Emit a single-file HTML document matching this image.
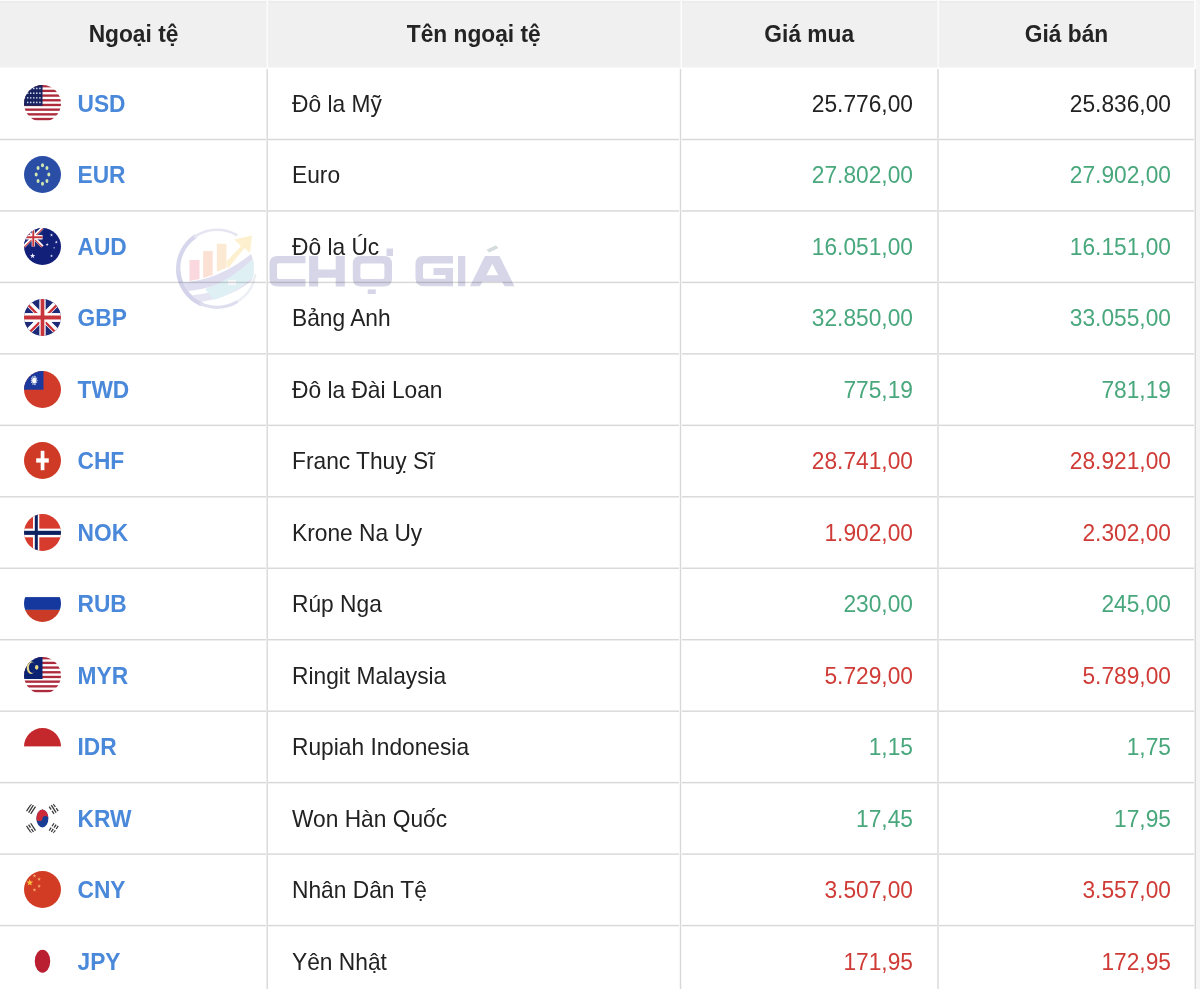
<!DOCTYPE html><html><head><meta charset="utf-8"><title>Tỷ giá ngoại tệ</title><style>
*{margin:0;padding:0;box-sizing:border-box}
html,body{width:1200px;height:989px;overflow:hidden;background:#fff}
body{position:relative;font-family:"Liberation Sans",sans-serif;font-size:22.75px;color:#222}
.abs{position:absolute}
#wrap{position:absolute;left:0;top:0;width:1200px;height:989px;overflow:hidden;background:#fff;filter:blur(0.6px)}
.hd{position:absolute;top:0;height:67.5px;line-height:67.5px;font-weight:bold;text-align:center;color:#242424}
.hd span{display:inline-block;transform-origin:0 41.27px;transform:translateY(0.9px) scaleY(1.02)}
.t{transform-origin:0 43.25px;transform:translateY(0.9px) scaleY(1.02)}
.hl{position:absolute;left:0;width:1197px;height:1.5px;background:#dcdcdc}
.vl{position:absolute;width:1.6px;background:#dddddd}
.row{position:absolute;left:0;width:1195px;height:71.46px;line-height:71.46px}
.code{position:absolute;left:77.5px;top:0;font-weight:bold;color:#4a88da}
.name{position:absolute;left:292px;top:0}
.buy{position:absolute;right:282px;top:0}
.sell{position:absolute;right:24px;top:0}
.flag{position:absolute;left:23.5px;width:37px;height:37px;border-radius:50%;overflow:hidden}
.flag svg{display:block;width:37px;height:37px}
</style></head><body><div id="wrap">
<div class="abs" style="left:0;top:0;width:1194px;height:67px;background:#f0f0f0"></div>
<div class="abs" style="left:0;top:67px;width:1194px;height:1px;background:#f7f7f7"></div>
<div class="abs" style="left:0;top:0;width:1194px;height:1px;background:#fafafa"></div>
<div class="abs" style="left:0;top:1px;width:1194px;height:2px;background:#ececec"></div>
<div class="abs" style="left:1194px;top:0;width:2px;height:68px;background:#fbfbfb"></div>
<div class="abs" style="left:266px;top:0;width:1px;height:68px;background:#f6f6f6"></div>
<div class="abs" style="left:267px;top:0;width:1px;height:68px;background:#fcfcfc"></div>
<div class="abs" style="left:680px;top:0;width:1px;height:68px;background:#f6f6f6"></div>
<div class="abs" style="left:681px;top:0;width:1px;height:68px;background:#fcfcfc"></div>
<div class="abs" style="left:937px;top:0;width:1px;height:68px;background:#f6f6f6"></div>
<div class="abs" style="left:938px;top:0;width:1px;height:68px;background:#fcfcfc"></div>
<div class="abs" style="left:0px;top:138px;width:1196px;height:1px;background:#f6f6f6"></div>
<div class="abs" style="left:0px;top:139px;width:1196px;height:1px;background:#d8d8d8"></div>
<div class="abs" style="left:0px;top:140px;width:1196px;height:1px;background:#f6f6f6"></div>
<div class="abs" style="left:0px;top:210px;width:1196px;height:1px;background:#e1e1e1"></div>
<div class="abs" style="left:0px;top:211px;width:1196px;height:1px;background:#e4e4e4"></div>
<div class="abs" style="left:0px;top:281px;width:1196px;height:1px;background:#f3f3f3"></div>
<div class="abs" style="left:0px;top:282px;width:1196px;height:1px;background:#d8d8d8"></div>
<div class="abs" style="left:0px;top:283px;width:1196px;height:1px;background:#f9f9f9"></div>
<div class="abs" style="left:0px;top:353px;width:1196px;height:1px;background:#dedede"></div>
<div class="abs" style="left:0px;top:354px;width:1196px;height:1px;background:#e7e7e7"></div>
<div class="abs" style="left:0px;top:424px;width:1196px;height:1px;background:#f0f0f0"></div>
<div class="abs" style="left:0px;top:425px;width:1196px;height:1px;background:#d8d8d8"></div>
<div class="abs" style="left:0px;top:426px;width:1196px;height:1px;background:#fcfcfc"></div>
<div class="abs" style="left:0px;top:496px;width:1196px;height:1px;background:#dbdbdb"></div>
<div class="abs" style="left:0px;top:497px;width:1196px;height:1px;background:#ebebeb"></div>
<div class="abs" style="left:0px;top:567px;width:1196px;height:1px;background:#ededed"></div>
<div class="abs" style="left:0px;top:568px;width:1196px;height:1px;background:#d9d9d9"></div>
<div class="abs" style="left:0px;top:639px;width:1196px;height:1px;background:#d8d8d8"></div>
<div class="abs" style="left:0px;top:640px;width:1196px;height:1px;background:#eeeeee"></div>
<div class="abs" style="left:0px;top:710px;width:1196px;height:1px;background:#eaeaea"></div>
<div class="abs" style="left:0px;top:711px;width:1196px;height:1px;background:#dcdcdc"></div>
<div class="abs" style="left:0px;top:781px;width:1196px;height:1px;background:#fcfcfc"></div>
<div class="abs" style="left:0px;top:782px;width:1196px;height:1px;background:#d8d8d8"></div>
<div class="abs" style="left:0px;top:783px;width:1196px;height:1px;background:#f1f1f1"></div>
<div class="abs" style="left:0px;top:853px;width:1196px;height:1px;background:#e7e7e7"></div>
<div class="abs" style="left:0px;top:854px;width:1196px;height:1px;background:#dfdfdf"></div>
<div class="abs" style="left:0px;top:924px;width:1196px;height:1px;background:#f9f9f9"></div>
<div class="abs" style="left:0px;top:925px;width:1196px;height:1px;background:#d8d8d8"></div>
<div class="abs" style="left:0px;top:926px;width:1196px;height:1px;background:#f4f4f4"></div>
<div class="abs" style="left:266px;top:69px;width:1px;height:920px;background:#ececec"></div>
<div class="abs" style="left:267px;top:69px;width:1px;height:920px;background:#dcdcdc"></div>
<div class="abs" style="left:679px;top:69px;width:1px;height:920px;background:#f7f7f7"></div>
<div class="abs" style="left:680px;top:69px;width:1px;height:920px;background:#d8d8d8"></div>
<div class="abs" style="left:681px;top:69px;width:1px;height:920px;background:#f7f7f7"></div>
<div class="abs" style="left:937px;top:69px;width:1px;height:920px;background:#e4e4e4"></div>
<div class="abs" style="left:938px;top:69px;width:1px;height:920px;background:#e4e4e4"></div>
<div class="abs" style="left:1194px;top:69px;width:1px;height:920px;background:#efefef"></div>
<div class="abs" style="left:1195px;top:69px;width:1px;height:920px;background:#d8d8d8"></div>
<div class="abs" style="left:1196px;top:0;width:4px;height:989px;background:#f5f5f5"></div>
<div class="hd" style="left:0px;width:267px"><span>Ngoại tệ</span></div>
<div class="hd" style="left:267px;width:413.5px"><span>Tên ngoại tệ</span></div>
<div class="hd" style="left:680.5px;width:257.5px"><span>Giá mua</span></div>
<div class="hd" style="left:938px;width:257px"><span>Giá bán</span></div>
<svg class="abs" style="left:0;top:0;width:1200px;height:989px;pointer-events:none;mix-blend-mode:multiply" viewBox="0 0 1200 989"><defs><linearGradient id="sw" x1="0" y1="0" x2="1" y2="0"><stop offset="0" stop-color="#b8b8dc"/><stop offset="0.6" stop-color="#b8dcea"/><stop offset="1" stop-color="#c8e8ee"/></linearGradient><linearGradient id="rg" x1="0" y1="0" x2="1" y2="1"><stop offset="0" stop-color="#c8c8e6"/><stop offset="1" stop-color="#e4e4f0"/></linearGradient></defs><path d="M200.60,303.66 A38.8,38.8 0 0 1 178.35,271.88" fill="none" stroke="#d2d2ea" stroke-width="4.6" stroke-linecap="round"/><path d="M178.35,271.88 A38.8,38.8 0 0 1 194.75,236.72" fill="none" stroke="#d6d6ec" stroke-width="4.2" stroke-linecap="round"/><path d="M194.75,236.72 A38.8,38.8 0 0 1 236.40,234.90" fill="none" stroke="#e6e6f2" stroke-width="2.6" stroke-linecap="round"/><path d="M255.21,275.24 A38.8,38.8 0 0 1 236.40,302.10" fill="none" stroke="#eceff4" stroke-width="2.4" stroke-linecap="round"/><path d="M236.40,302.10 A38.8,38.8 0 0 1 200.60,303.66" fill="none" stroke="#dedeee" stroke-width="3.2" stroke-linecap="round"/><path d="M189.5,260 h10 v19 l-10,2z" fill="#fad8dd"/><path d="M203.2,251 h9.5 v24 l-9.5,3z" fill="#fbe0d4"/><path d="M216.8,243.8 h9.6 v24 l-9.6,4z" fill="#fce9d4"/><path d="M226,262 L241,246 L234,239.5 L252,235.5 L250,253 L244.5,248 L228,268.5z" fill="#fcf0cf"/><defs><clipPath id="lc"><circle cx="217" cy="268.5" r="37"/></clipPath></defs><g clip-path="url(#lc)"><path d="M170,282 Q214,286 256,250 L262,258 Q226,292 170,292z" fill="#dedef0"/><path d="M170,295 Q222,300 262,264 L262,272 Q228,306 170,303z" fill="#e4e4f2"/><path d="M205,289 Q232,280 256,256 L262,268 Q240,292 214,300z" fill="#dff0f4"/><path d="M228,280 h8 v5 h-8z" fill="#f6f8fa"/></g><g fill="#d6d6e8" fill-rule="evenodd"><path d="M305.5,256 H277.5 Q269.5,256 269.5,264 V278.4 Q269.5,286.4 277.5,286.4 H305.5 V278.9 H279 Q277,278.9 277,276.9 V265.3 Q277,263.3 279,263.3 H305.5 Z"/><path d="M309.1,256 h9.1 v13.4 h17.5 v-13.4 h9.1 v30.4 h-9.1 v-8.6 h-17.5 v8.6 h-9.1 Z"/><path d="M360.8,256 H384 Q392,256 392,264 V278.4 Q392,286.4 384,286.4 H360.8 Q352.8,286.4 352.8,278.4 V264 Q352.8,256 360.8,256 Z M362.4,263.5 Q360.4,263.5 360.4,265.5 V276.9 Q360.4,278.9 362.4,278.9 H382.4 Q384.4,278.9 384.4,276.9 V265.5 Q384.4,263.5 382.4,263.5 Z"/><path d="M386.5,248.5 h6.5 v7.5 h-6.5z"/><path d="M367.7,289.4 h8.1 v4.6 h-8.1z"/><path d="M453,256 H423.5 Q415.5,256 415.5,264 V278.3 Q415.5,286.3 423.5,286.3 H453 V268 H433.5 V275 H445.5 V278.8 H425 Q423,278.8 423,276.8 V265.5 Q423,263.5 425,263.5 H453 Z"/><path d="M458,256 h7.3 v30.3 h-7.3z"/><path d="M470,286.3 L485,256 H499.5 L514.5,286.3 H504.5 L502.2,281.8 H482.3 L480,286.3 Z M492.3,263.8 L486.3,275.3 H498.3 Z"/></g><path d="M486.5,249.8 L495.8,245.3 L498.6,248.1 L489.3,252.6Z" fill="#d4dcdc"/></svg>
<div class="row" style="top:68.0px">
<div class="flag" style="top:17.0px"><svg viewBox="0 0 37 37"><rect width="37" height="37" fill="#fff"/><rect x="0" y="0.03" width="37" height="2.35" fill="#ad2b3d"/><rect x="0" y="4.72" width="37" height="2.35" fill="#ad2b3d"/><rect x="0" y="9.41" width="37" height="2.35" fill="#ad2b3d"/><rect x="0" y="14.10" width="37" height="2.35" fill="#ad2b3d"/><rect x="0" y="18.79" width="37" height="2.35" fill="#ad2b3d"/><rect x="0" y="23.48" width="37" height="2.35" fill="#ad2b3d"/><rect x="0" y="28.17" width="37" height="2.35" fill="#ad2b3d"/><rect x="0" y="32.86" width="37" height="2.35" fill="#ad2b3d"/><rect x="0" y="0" width="18.5" height="20.8" fill="#18225e"/><circle cx="3.7" cy="3.4" r="0.85" fill="#c8d4f0"/><circle cx="6.7" cy="3.4" r="0.85" fill="#c8d4f0"/><circle cx="9.8" cy="3.4" r="0.85" fill="#c8d4f0"/><circle cx="12.8" cy="3.4" r="0.85" fill="#c8d4f0"/><circle cx="15.9" cy="3.4" r="0.85" fill="#c8d4f0"/><circle cx="3.7" cy="8.2" r="0.85" fill="#c8d4f0"/><circle cx="6.7" cy="8.2" r="0.85" fill="#c8d4f0"/><circle cx="9.8" cy="8.2" r="0.85" fill="#c8d4f0"/><circle cx="12.8" cy="8.2" r="0.85" fill="#c8d4f0"/><circle cx="15.9" cy="8.2" r="0.85" fill="#c8d4f0"/><circle cx="3.7" cy="12.8" r="0.85" fill="#c8d4f0"/><circle cx="6.7" cy="12.8" r="0.85" fill="#c8d4f0"/><circle cx="9.8" cy="12.8" r="0.85" fill="#c8d4f0"/><circle cx="12.8" cy="12.8" r="0.85" fill="#c8d4f0"/><circle cx="15.9" cy="12.8" r="0.85" fill="#c8d4f0"/><circle cx="3.7" cy="17.4" r="0.85" fill="#c8d4f0"/><circle cx="6.7" cy="17.4" r="0.85" fill="#c8d4f0"/><circle cx="9.8" cy="17.4" r="0.85" fill="#c8d4f0"/><circle cx="12.8" cy="17.4" r="0.85" fill="#c8d4f0"/><circle cx="15.9" cy="17.4" r="0.85" fill="#c8d4f0"/></svg></div>
<div class="code t">USD</div><div class="name t">Đô la Mỹ</div>
<div class="buy t" style="color:#222">25.776,00</div><div class="sell t" style="color:#222">25.836,00</div>
</div>
<div class="row" style="top:139.45999999999998px">
<div class="flag" style="top:17.0px"><svg viewBox="0 0 37 37"><rect width="37" height="37" fill="#2a4ea6"/><ellipse cx="18.50" cy="9.20" rx="1.5" ry="2" fill="#d2e8b0"/><ellipse cx="22.95" cy="11.92" rx="1.5" ry="2" fill="#d2e8b0"/><ellipse cx="24.80" cy="18.50" rx="1.5" ry="2" fill="#d2e8b0"/><ellipse cx="22.95" cy="25.08" rx="1.5" ry="2" fill="#d2e8b0"/><ellipse cx="18.50" cy="27.80" rx="1.5" ry="2" fill="#d2e8b0"/><ellipse cx="14.05" cy="25.08" rx="1.5" ry="2" fill="#d2e8b0"/><ellipse cx="12.20" cy="18.50" rx="1.5" ry="2" fill="#d2e8b0"/><ellipse cx="14.05" cy="11.92" rx="1.5" ry="2" fill="#d2e8b0"/></svg></div>
<div class="code t">EUR</div><div class="name t">Euro</div>
<div class="buy t" style="color:#48a77c">27.802,00</div><div class="sell t" style="color:#48a77c">27.902,00</div>
</div>
<div class="row" style="top:210.92px">
<div class="flag" style="top:17.0px"><svg viewBox="0 0 37 37"><rect width="37" height="37" fill="#13207a"/><g><rect width="18.5" height="18.5" fill="#1c2a78"/><path d="M0,0 L18.5,18.5 M18.5,0 L0,18.5" stroke="#fff" stroke-width="3.15"/><path d="M0,0 L9.25,9.25 M18.5,18.5 L9.25,9.25" stroke="#c8343c" stroke-width="1.11" transform="translate(-0.37,0.55)"/><path d="M18.5,0 L9.25,9.25 M0,18.5 L9.25,9.25" stroke="#c8343c" stroke-width="1.11" transform="translate(0.37,0.55)"/><rect x="7.68" y="0" width="3.15" height="18.5" fill="#fff"/><rect x="0" y="7.03" width="18.5" height="4.44" fill="#fff"/><rect x="8.32" y="0" width="1.85" height="18.5" fill="#c8343c"/><rect x="0" y="8.27" width="18.5" height="1.96" fill="#c8343c"/></g><polygon points="8.60,25.10 9.26,26.99 11.26,27.03 9.67,28.25 10.25,30.17 8.60,29.02 6.95,30.17 7.53,28.25 5.94,27.03 7.94,26.99" fill="#eef"/><polygon points="27.50,5.50 27.88,6.58 29.02,6.61 28.11,7.30 28.44,8.39 27.50,7.74 26.56,8.39 26.89,7.30 25.98,6.61 27.12,6.58" fill="#eef"/><polygon points="32.30,12.60 32.68,13.68 33.82,13.71 32.91,14.40 33.24,15.49 32.30,14.84 31.36,15.49 31.69,14.40 30.78,13.71 31.92,13.68" fill="#eef"/><polygon points="23.20,14.90 23.58,15.98 24.72,16.01 23.81,16.70 24.14,17.79 23.20,17.14 22.26,17.79 22.59,16.70 21.68,16.01 22.82,15.98" fill="#eef"/><polygon points="30.10,18.80 30.34,19.48 31.05,19.49 30.48,19.92 30.69,20.61 30.10,20.20 29.51,20.61 29.72,19.92 29.15,19.49 29.86,19.48" fill="#eef"/><polygon points="27.50,26.30 27.88,27.38 29.02,27.41 28.11,28.10 28.44,29.19 27.50,28.54 26.56,29.19 26.89,28.10 25.98,27.41 27.12,27.38" fill="#eef"/></svg></div>
<div class="code t">AUD</div><div class="name t">Đô la Úc</div>
<div class="buy t" style="color:#48a77c">16.051,00</div><div class="sell t" style="color:#48a77c">16.151,00</div>
</div>
<div class="row" style="top:282.38px">
<div class="flag" style="top:17.0px"><svg viewBox="0 0 37 37"><rect width="37" height="37" fill="#1c2a78"/><path d="M0,0 L37,37 M37,0 L0,37" stroke="#fff" stroke-width="6.29"/><path d="M0,0 L18.5,18.5 M37,37 L18.5,18.5" stroke="#c8343c" stroke-width="2.22" transform="translate(-0.74,1.11)"/><path d="M37,0 L18.5,18.5 M0,37 L18.5,18.5" stroke="#c8343c" stroke-width="2.22" transform="translate(0.74,1.11)"/><rect x="15.36" y="0" width="6.29" height="37" fill="#fff"/><rect x="0" y="14.06" width="37" height="8.88" fill="#fff"/><rect x="16.65" y="0" width="3.70" height="37" fill="#c8343c"/><rect x="0" y="16.54" width="37" height="3.92" fill="#c8343c"/></svg></div>
<div class="code t">GBP</div><div class="name t">Bảng Anh</div>
<div class="buy t" style="color:#48a77c">32.850,00</div><div class="sell t" style="color:#48a77c">33.055,00</div>
</div>
<div class="row" style="top:353.84px">
<div class="flag" style="top:17.0px"><svg viewBox="0 0 37 37"><rect width="37" height="37" fill="#d03b2a"/><rect width="19.5" height="18.7" fill="#1c3a9e"/><polygon points="13.84,9.40 12.63,10.33 13.35,12.00 11.98,11.95 12.02,13.90 10.85,12.88 10.20,14.60 9.55,12.88 8.38,13.90 8.42,11.95 7.05,12.00 7.77,10.33 6.56,9.40 7.77,8.47 7.05,6.80 8.42,6.85 8.38,4.90 9.55,5.92 10.20,4.20 10.85,5.92 12.02,4.90 11.98,6.85 13.35,6.80 12.63,8.47" fill="#f4f6fb"/><ellipse cx="10.2" cy="9.4" rx="2.5" ry="3.5" fill="#3050a8"/><ellipse cx="10.2" cy="9.4" rx="2.1" ry="3" fill="#fff"/></svg></div>
<div class="code t">TWD</div><div class="name t">Đô la Đài Loan</div>
<div class="buy t" style="color:#48a77c">775,19</div><div class="sell t" style="color:#48a77c">781,19</div>
</div>
<div class="row" style="top:425.29999999999995px">
<div class="flag" style="top:17.0px"><svg viewBox="0 0 37 37"><rect width="37" height="37" fill="#cf3a26"/><rect x="16.7" y="8.8" width="3.7" height="19.4" fill="#fff"/><rect x="12.2" y="16.3" width="12.6" height="4.3" fill="#fff"/></svg></div>
<div class="code t">CHF</div><div class="name t">Franc Thuỵ Sĩ</div>
<div class="buy t" style="color:#cf3b36">28.741,00</div><div class="sell t" style="color:#cf3b36">28.921,00</div>
</div>
<div class="row" style="top:496.76px">
<div class="flag" style="top:17.0px"><svg viewBox="0 0 37 37"><rect width="37" height="37" fill="#d63b2d"/><rect x="9" y="0" width="6.3" height="37" fill="#fff"/><rect x="0" y="14.6" width="37" height="8.7" fill="#fff"/><rect x="10.8" y="0" width="3" height="37" fill="#0d2160"/><rect x="0" y="16.8" width="37" height="4.1" fill="#0d2160"/></svg></div>
<div class="code t">NOK</div><div class="name t">Krone Na Uy</div>
<div class="buy t" style="color:#cf3b36">1.902,00</div><div class="sell t" style="color:#cf3b36">2.302,00</div>
</div>
<div class="row" style="top:568.22px">
<div class="flag" style="top:17.0px"><svg viewBox="0 0 37 37"><rect width="37" height="37" fill="#fff"/><rect y="12.1" width="37" height="12.8" fill="#15389e"/><rect y="24.9" width="37" height="12.1" fill="#c93b26"/></svg></div>
<div class="code t">RUB</div><div class="name t">Rúp Nga</div>
<div class="buy t" style="color:#48a77c">230,00</div><div class="sell t" style="color:#48a77c">245,00</div>
</div>
<div class="row" style="top:639.68px">
<div class="flag" style="top:17.0px"><svg viewBox="0 0 37 37"><rect width="37" height="37" fill="#fff"/><rect x="0" y="0.03" width="37" height="2.35" fill="#ad2b3d"/><rect x="0" y="4.72" width="37" height="2.35" fill="#ad2b3d"/><rect x="0" y="9.41" width="37" height="2.35" fill="#ad2b3d"/><rect x="0" y="14.10" width="37" height="2.35" fill="#ad2b3d"/><rect x="0" y="18.79" width="37" height="2.35" fill="#ad2b3d"/><rect x="0" y="23.48" width="37" height="2.35" fill="#ad2b3d"/><rect x="0" y="28.17" width="37" height="2.35" fill="#ad2b3d"/><rect x="0" y="32.86" width="37" height="2.35" fill="#ad2b3d"/><rect x="0" y="0" width="18.5" height="22" fill="#0c2272"/><ellipse cx="7" cy="10.6" rx="4.3" ry="6.3" fill="#e8d888"/><ellipse cx="8.4" cy="10.6" rx="3.5" ry="5.3" fill="#0c2272"/><ellipse cx="12.7" cy="10.3" rx="1.7" ry="2.4" fill="#e8d888"/></svg></div>
<div class="code t">MYR</div><div class="name t">Ringit Malaysia</div>
<div class="buy t" style="color:#cf3b36">5.729,00</div><div class="sell t" style="color:#cf3b36">5.789,00</div>
</div>
<div class="row" style="top:711.14px">
<div class="flag" style="top:17.0px"><svg viewBox="0 0 37 37"><rect width="37" height="37" fill="#fff"/><rect width="37" height="18.4" fill="#c4282c"/></svg></div>
<div class="code t">IDR</div><div class="name t">Rupiah Indonesia</div>
<div class="buy t" style="color:#48a77c">1,15</div><div class="sell t" style="color:#48a77c">1,75</div>
</div>
<div class="row" style="top:782.5999999999999px">
<div class="flag" style="top:17.0px"><svg viewBox="0 0 37 37"><rect width="37" height="37" fill="#fff"/><ellipse cx="18.4" cy="18.5" rx="6" ry="9" fill="#1a3d94"/><path d="M12.4,18.5 A6,9 0 0 1 24.4,18.5 A3,2.6 0 0 0 18.4,18.5 A3,2.6 0 0 1 12.4,18.5 Z" fill="#cd2a3a"/><g transform="translate(7,8.9) rotate(33)"><rect x="-3.15" y="-4.4" width="1.3" height="8.8" fill="#3a3a3a"/><rect x="-0.65" y="-4.4" width="1.3" height="8.8" fill="#3a3a3a"/><rect x="1.85" y="-4.4" width="1.3" height="8.8" fill="#3a3a3a"/></g><g transform="translate(29.7,8.9) rotate(-33)"><rect x="-3.15" y="-4.4" width="1.3" height="3.6" fill="#3a3a3a"/><rect x="-3.15" y="0.8" width="1.3" height="3.6" fill="#3a3a3a"/><rect x="-0.65" y="-4.4" width="1.3" height="8.8" fill="#3a3a3a"/><rect x="1.85" y="-4.4" width="1.3" height="3.6" fill="#3a3a3a"/><rect x="1.85" y="0.8" width="1.3" height="3.6" fill="#3a3a3a"/></g><g transform="translate(7,28.3) rotate(-33)"><rect x="-3.15" y="-4.4" width="1.3" height="8.8" fill="#3a3a3a"/><rect x="-0.65" y="-4.4" width="1.3" height="3.6" fill="#3a3a3a"/><rect x="-0.65" y="0.8" width="1.3" height="3.6" fill="#3a3a3a"/><rect x="1.85" y="-4.4" width="1.3" height="8.8" fill="#3a3a3a"/></g><g transform="translate(29.7,28.3) rotate(33)"><rect x="-3.15" y="-4.4" width="1.3" height="3.6" fill="#3a3a3a"/><rect x="-3.15" y="0.8" width="1.3" height="3.6" fill="#3a3a3a"/><rect x="-0.65" y="-4.4" width="1.3" height="3.6" fill="#3a3a3a"/><rect x="-0.65" y="0.8" width="1.3" height="3.6" fill="#3a3a3a"/><rect x="1.85" y="-4.4" width="1.3" height="3.6" fill="#3a3a3a"/><rect x="1.85" y="0.8" width="1.3" height="3.6" fill="#3a3a3a"/></g></svg></div>
<div class="code t">KRW</div><div class="name t">Won Hàn Quốc</div>
<div class="buy t" style="color:#48a77c">17,45</div><div class="sell t" style="color:#48a77c">17,95</div>
</div>
<div class="row" style="top:854.06px">
<div class="flag" style="top:17.0px"><svg viewBox="0 0 37 37"><rect width="37" height="37" fill="#d23c25"/><polygon points="5.80,8.10 6.65,10.54 9.22,10.59 7.17,12.14 7.92,14.61 5.80,13.14 3.68,14.61 4.43,12.14 2.38,10.59 4.95,10.54" fill="#f8c040"/><polygon points="10.50,3.00 10.95,4.29 12.31,4.31 11.22,5.13 11.62,6.44 10.50,5.66 9.38,6.44 9.78,5.13 8.69,4.31 10.05,4.29" fill="#f6a868"/><polygon points="15.10,6.30 15.55,7.59 16.91,7.61 15.82,8.43 16.22,9.74 15.10,8.96 13.98,9.74 14.38,8.43 13.29,7.61 14.65,7.59" fill="#f6a868"/><polygon points="15.10,13.30 15.55,14.59 16.91,14.61 15.82,15.43 16.22,16.74 15.10,15.96 13.98,16.74 14.38,15.43 13.29,14.61 14.65,14.59" fill="#f6a868"/><polygon points="10.50,17.00 10.95,18.29 12.31,18.31 11.22,19.13 11.62,20.44 10.50,19.66 9.38,20.44 9.78,19.13 8.69,18.31 10.05,18.29" fill="#f6a868"/></svg></div>
<div class="code t">CNY</div><div class="name t">Nhân Dân Tệ</div>
<div class="buy t" style="color:#cf3b36">3.507,00</div><div class="sell t" style="color:#cf3b36">3.557,00</div>
</div>
<div class="row" style="top:925.52px">
<div class="flag" style="top:17.0px"><svg viewBox="0 0 37 37"><rect width="37" height="37" fill="#fff"/><ellipse cx="18.5" cy="18.2" rx="7.7" ry="11.5" fill="#b91f30"/></svg></div>
<div class="code t">JPY</div><div class="name t">Yên Nhật</div>
<div class="buy t" style="color:#cf3b36">171,95</div><div class="sell t" style="color:#cf3b36">172,95</div>
</div>
</div></body></html>
